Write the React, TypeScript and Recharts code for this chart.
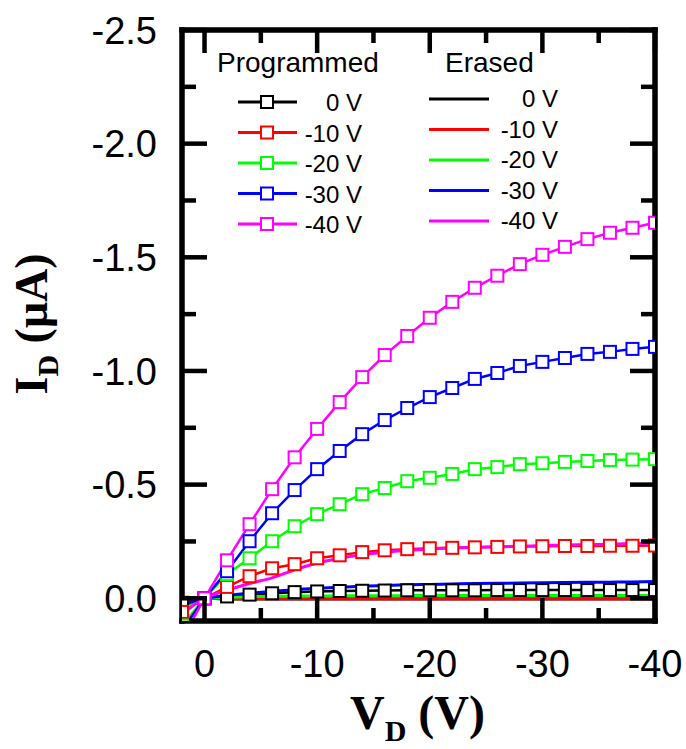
import { LineChart, Line, XAxis, YAxis } from 'recharts';

const W = 686;
const H = 749;

// drain voltage sweep (V)
const VD = [2, 0, -2, -4, -6, -8, -10, -12, -14, -16, -18, -20, -22, -24, -26, -28, -30, -32, -34, -36, -38, -40];

const GATE_LABELS = ['0 V', '-10 V', '-20 V', '-30 V', '-40 V'];
const COLORS = ['#000000', '#ff0000', '#00ff00', '#0000ff', '#ff00ff'];

const X_TICKS = [0, -5, -10, -15, -20, -25, -30, -35, -40];
const Y_TICKS = [-2.5, -2.25, -2, -1.75, -1.5, -1.25, -1, -0.75, -0.5, -0.25, 0];

// programmed state, I_D in uA
const PROG_0 = [0.02, 0, -0.008, -0.016, -0.022, -0.027, -0.03, -0.032, -0.033, -0.034, -0.035, -0.035, -0.035, -0.035, -0.036, -0.036, -0.036, -0.036, -0.036, -0.036, -0.036, -0.036];
const PROG_10 = [0.06, 0, -0.05, -0.097, -0.132, -0.15, -0.176, -0.189, -0.203, -0.211, -0.216, -0.22, -0.222, -0.224, -0.226, -0.228, -0.229, -0.23, -0.23, -0.231, -0.231, -0.232];
const PROG_20 = [0.12, 0, -0.106, -0.176, -0.251, -0.317, -0.37, -0.414, -0.458, -0.485, -0.515, -0.53, -0.547, -0.568, -0.577, -0.59, -0.594, -0.6, -0.604, -0.608, -0.61, -0.612];
const PROG_30 = [0.14, 0, -0.119, -0.251, -0.374, -0.476, -0.568, -0.648, -0.722, -0.784, -0.837, -0.885, -0.925, -0.965, -0.991, -1.022, -1.04, -1.057, -1.075, -1.084, -1.097, -1.106];
const PROG_40 = [0.18, 0, -0.167, -0.326, -0.48, -0.62, -0.745, -0.863, -0.973, -1.07, -1.154, -1.234, -1.304, -1.366, -1.419, -1.47, -1.511, -1.546, -1.58, -1.608, -1.63, -1.652];

// erased state, I_D in uA
const ERASE_0 = [0.005, 0, 0.003, 0.003, 0.003, 0.003, 0.003, 0.003, 0.003, 0.003, 0.003, 0.003, 0.003, 0.003, 0.003, 0.003, 0.003, 0.003, 0.003, 0.003, 0.003, 0.003];
const ERASE_10 = [0.015, 0, 0.002, 0.002, 0.002, 0.002, 0.002, 0.002, 0.002, 0.002, 0.002, 0.002, 0.002, 0.002, 0.002, 0.002, 0.002, 0.002, 0.002, 0.002, 0.002, 0.002];
const ERASE_20 = [0.05, 0, -0.004, -0.007, -0.009, -0.01, -0.01, -0.011, -0.011, -0.011, -0.012, -0.012, -0.012, -0.012, -0.012, -0.012, -0.012, -0.012, -0.012, -0.012, -0.012, -0.012];
const ERASE_30 = [0.03, 0, -0.012, -0.022, -0.03, -0.038, -0.044, -0.049, -0.053, -0.056, -0.059, -0.061, -0.063, -0.065, -0.066, -0.067, -0.068, -0.069, -0.07, -0.071, -0.072, -0.074];
const ERASE_40 = [0.07, 0, -0.035, -0.065, -0.09, -0.125, -0.155, -0.175, -0.192, -0.203, -0.211, -0.217, -0.221, -0.224, -0.227, -0.229, -0.232, -0.234, -0.236, -0.238, -0.241, -0.244];

const PROGRAMMED = [PROG_0, PROG_10, PROG_20, PROG_30, PROG_40];
const ERASED = [ERASE_0, ERASE_10, ERASE_20, ERASE_30, ERASE_40];

const data = VD.map((v, i) => {
  const row: Record<string, number> = { vd: v };
  PROGRAMMED.forEach((s, k) => (row[`p${k}`] = s[i]));
  ERASED.forEach((s, k) => (row[`e${k}`] = s[i]));
  return row;
});

const SANS = '"Liberation Sans", Arial, sans-serif';
const SERIF = '"Liberation Serif", "Times New Roman", serif';
const INK = '#000000';
const TW = 4.5; // tick thickness
const FW = 5.5; // frame thickness

const isMajorX = (v: number) => v % 10 === 0;
const isMajorY = (v: number) => Math.abs((v * 2) % 1) < 1e-6;

// ticks drawn as filled bars, pointing into the plot
const BottomTick = ({ x, y, payload }: any) => {
  const len = isMajorX(payload.value) ? 23 : 13;
  return (
    <g>
      <rect x={x - TW / 2} y={y - len} width={TW} height={len} fill={INK} />
      {isMajorX(payload.value) && (
        <text x={x} y={y + 56} textAnchor="middle" fontSize={38} fontFamily={SANS} fill={INK}>
          {payload.value}
        </text>
      )}
    </g>
  );
};

const TopTick = ({ x, y, payload }: any) => {
  const len = isMajorX(payload.value) ? 23 : 13;
  return <rect x={x - TW / 2} y={y} width={TW} height={len} fill={INK} />;
};

const LeftTick = ({ x, y, payload }: any) => {
  const len = isMajorY(payload.value) ? 25 : 14;
  return (
    <g>
      <rect x={x} y={y - TW / 2} width={len} height={TW} fill={INK} />
      {isMajorY(payload.value) && (
        <text x={x - 25} y={y} dy="0.36em" textAnchor="end" fontSize={38} fontFamily={SANS} fill={INK}>
          {payload.value.toFixed(1)}
        </text>
      )}
    </g>
  );
};

const RightTick = ({ x, y, payload }: any) => {
  const len = isMajorY(payload.value) ? 25 : 14;
  return <rect x={x - len} y={y - TW / 2} width={len} height={TW} fill={INK} />;
};

const SquareDot = (color: string) => (props: any) => {
  const { cx, cy, index } = props;
  if (cx == null || cy == null) return <g key={`d-${index}`} />;
  return (
    <rect
      key={`d-${index}`}
      x={cx - 6}
      y={cy - 6}
      width={12}
      height={12}
      fill="#fff"
      stroke={color}
      strokeWidth={2}
    />
  );
};

// x title plus the plot frame, positioned from the axis viewBox
const XTitle = ({ viewBox }: any) => {
  const { x = 182, y = 621, width = 473 } = viewBox || {};
  const top = 30;
  return (
    <g>
      <rect x={x - FW / 2} y={top - FW / 2} width={width + FW} height={FW} fill={INK} />
      <rect x={x - FW / 2} y={y - FW / 2} width={width + FW} height={FW} fill={INK} />
      <rect x={x - FW / 2} y={top - FW / 2} width={FW} height={y - top + FW} fill={INK} />
      <rect x={x + width - FW / 2} y={top - FW / 2} width={FW} height={y - top + FW} fill={INK} />
      <text x={350} y={729} fontFamily={SERIF} fontWeight="bold" fill={INK} fontSize={48}>
        V
        <tspan fontSize={30} dy={12}>D</tspan>
        <tspan dy={-12}> (V)</tspan>
      </text>
    </g>
  );
};

const YTitle = () => (
  <text
    transform="translate(47,324) rotate(-90)"
    textAnchor="middle"
    fontFamily={SERIF}
    fontWeight="bold"
    fill={INK}
    fontSize={46}
  >
    I
    <tspan fontSize={30} dy={11}>D</tspan>
    <tspan dy={-11}> (μA)</tspan>
  </text>
);

const LegendOverlay = () => (
  <svg
    width={W}
    height={300}
    style={{ position: 'absolute', left: 0, top: 0, pointerEvents: 'none' }}
  >
    <text x={217} y={72} fontSize={28} fontFamily={SANS} fill={INK}>Programmed</text>
    <text x={445} y={72} fontSize={28} fontFamily={SANS} fill={INK}>Erased</text>
    {GATE_LABELS.map((lab, i) => {
      const yp = 102 + i * 30.5;
      const ye = 99 + i * 30.5;
      return (
        <g key={lab}>
          <line x1={238} x2={297} y1={yp} y2={yp} stroke={COLORS[i]} strokeWidth={3} />
          <rect x={261} y={yp - 6} width={12} height={12} fill="#fff" stroke={COLORS[i]} strokeWidth={2} />
          <text x={362} y={yp + 9} textAnchor="end" fontSize={24} fontFamily={SANS} fill={INK}>{lab}</text>
          <line x1={429} x2={489} y1={ye} y2={ye} stroke={COLORS[i]} strokeWidth={3} />
          <text x={558} y={ye + 8} textAnchor="end" fontSize={24} fontFamily={SANS} fill={INK}>{lab}</text>
        </g>
      );
    })}
  </svg>
);

export default function App() {
  return (
    <div style={{ position: 'absolute', left: 0, top: 0, width: W, height: H, background: '#fff' }}>
      <LineChart width={W} height={H} data={data} margin={{ top: 29, right: 30, left: 0, bottom: 0 }}>
        <XAxis
          dataKey="vd"
          type="number"
          domain={[-40, 2]}
          reversed
          allowDataOverflow
          ticks={X_TICKS}
          interval={0}
          tickSize={0}
          tickMargin={0}
          height={128}
          tick={<BottomTick />}
          axisLine={false}
          label={{ content: (p: any) => <XTitle {...p} /> }}
        />
        <XAxis
          xAxisId="top"
          orientation="top"
          dataKey="vd"
          type="number"
          domain={[-40, 2]}
          reversed
          allowDataOverflow
          ticks={X_TICKS}
          interval={0}
          tickSize={0}
          tickMargin={0}
          height={1}
          tick={<TopTick />}
          axisLine={false}
        />
        <YAxis
          type="number"
          domain={[-2.5, 0.1]}
          reversed
          allowDataOverflow
          ticks={Y_TICKS}
          interval={0}
          tickSize={0}
          tickMargin={0}
          width={182}
          tick={<LeftTick />}
          axisLine={false}
          label={{ content: () => <YTitle /> }}
        />
        <YAxis
          yAxisId="right"
          orientation="right"
          type="number"
          domain={[-2.5, 0.1]}
          reversed
          allowDataOverflow
          ticks={Y_TICKS}
          interval={0}
          tickSize={0}
          tickMargin={0}
          width={1}
          tick={<RightTick />}
          axisLine={false}
        />
        {/* invisible series so the mirrored top/right axes get drawn */}
        <Line
          xAxisId="top"
          yAxisId="right"
          dataKey="p0"
          stroke="none"
          dot={false}
          activeDot={false}
          legendType="none"
          isAnimationActive={false}
        />
        {PROGRAMMED.map((_s, k) => (
          <Line
            key={`p${k}`}
            dataKey={`p${k}`}
            type="linear"
            stroke={COLORS[k]}
            strokeWidth={2.5}
            dot={SquareDot(COLORS[k])}
            activeDot={false}
            isAnimationActive={false}
          />
        ))}
        {ERASED.map((_s, k) => (
          <Line
            key={`e${k}`}
            dataKey={`e${k}`}
            type="monotone"
            stroke={COLORS[k]}
            strokeWidth={3}
            dot={false}
            activeDot={false}
            isAnimationActive={false}
          />
        ))}
      </LineChart>
      <LegendOverlay />
    </div>
  );
}
